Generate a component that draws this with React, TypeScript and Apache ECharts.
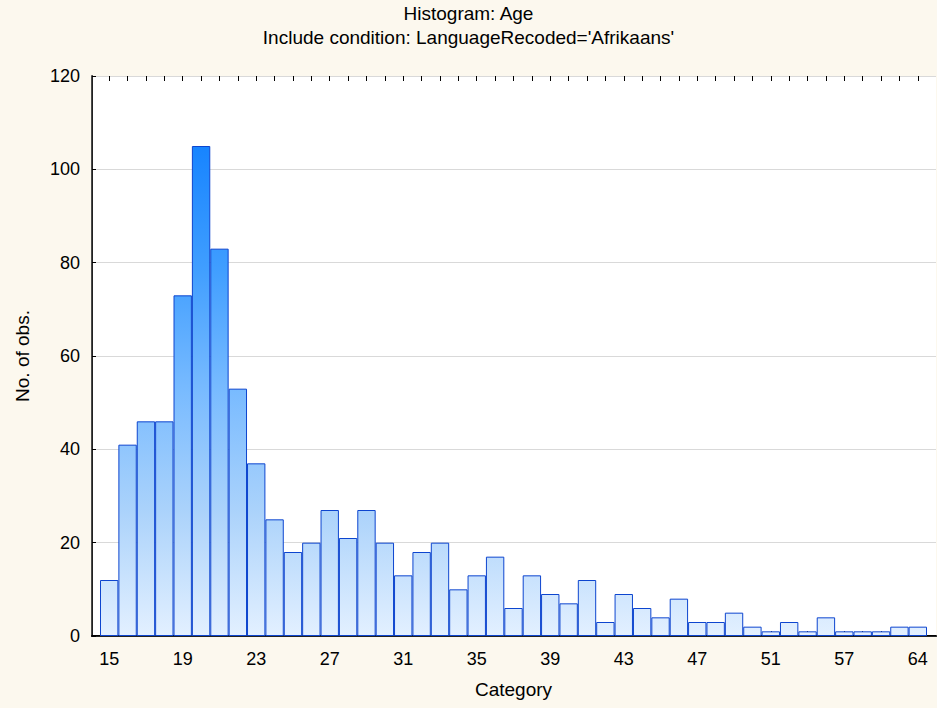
import React, { useEffect, useRef } from "react";
import * as echarts from "echarts";

const categories = [
  "15","16","17","18","19","20","21","22","23","24","25","26","27","28","29","30",
  "31","32","33","34","35","36","37","38","39","40","41","42","43","44","45","46",
  "47","48","49","50","51","52","53","55","57","58","60","62","64",
];
const counts = [
  12, 41, 46, 46, 73, 105, 83, 53, 37, 25, 18, 20, 27, 21, 27, 20,
  13, 18, 20, 10, 13, 17, 6, 13, 9, 7, 12, 3, 9, 6, 4, 8,
  3, 3, 5, 2, 1, 3, 1, 4, 1, 1, 1, 2, 2,
];
const yTicks = [0, 20, 40, 60, 80, 100, 120];

const FONT = "Liberation Sans, Arial, sans-serif";

export default function App() {
  const ref = useRef<HTMLDivElement>(null);
  useEffect(() => {
    if (!ref.current) return;
    const chart = echarts.init(ref.current, undefined, { renderer: "svg" });
    const top = 76;
    const bottom = 72;
    const plotH = 708 - top - bottom;
    const yMax = yTicks[yTicks.length - 1];
    const yOf = (v: number) => top + plotH * (1 - v / yMax);
    const gradient = {
      type: "linear",
      x: 0,
      y: yOf(105),
      x2: 0,
      y2: yOf(0),
      global: true,
      colorStops: [
        { offset: 0, color: "#1784ff" },
        { offset: 0.25, color: "#409eff" },
        { offset: 0.5, color: "#79bbff" },
        { offset: 0.75, color: "#acd3fb" },
        { offset: 1, color: "#e3f0ff" },
      ],
    };
    chart.setOption({
      animation: false,
      backgroundColor: "#fcf8ee",
      textStyle: { fontFamily: FONT },
      title: {
        text: "Histogram: Age",
        subtext: "Include condition: LanguageRecoded='Afrikaans'",
        left: "center",
        top: -1,
        itemGap: 5,
        textStyle: { fontFamily: FONT, fontSize: 19, fontWeight: "normal", color: "#000" },
        subtextStyle: { fontFamily: FONT, fontSize: 19, color: "#000" },
      },
      grid: [
        { left: 100, right: 10, top, bottom },
        { left: 92, right: 1, top, bottom, backgroundColor: "#fff", show: true, borderWidth: 0 },
      ],
      xAxis: [
        {
          type: "category",
          gridIndex: 0,
          data: categories,
          position: "bottom",
          name: "Category",
          nameLocation: "middle",
          nameGap: 44,
          nameTextStyle: { fontFamily: FONT, fontSize: 19, color: "#000" },
          axisLine: { show: false },
          axisTick: { show: true, inside: true, alignWithLabel: true, interval: 0, length: 5, lineStyle: { color: "#000" } },
          axisLabel: { interval: 3, margin: 14, fontFamily: FONT, fontSize: 18, color: "#000" },
          splitLine: { show: false },
        },
        {
          type: "category",
          gridIndex: 0,
          data: categories,
          position: "top",
          axisLine: { show: false },
          axisTick: { show: true, inside: true, alignWithLabel: true, interval: 0, length: 5, lineStyle: { color: "#000" } },
          axisLabel: { show: false },
          splitLine: { show: false },
        },
        {
          type: "value",
          gridIndex: 1,
          min: 0,
          max: 1,
          position: "bottom",
          axisLine: { show: true, lineStyle: { color: "#000", width: 2 } },
          axisTick: { show: false },
          axisLabel: { show: false },
          splitLine: { show: false },
        },
        {
          type: "value",
          gridIndex: 1,
          min: 0,
          max: 1,
          position: "top",
          axisLine: { show: true, lineStyle: { color: "#222", width: 1 } },
          axisTick: { show: false },
          axisLabel: { show: false },
          splitLine: { show: false },
        },
      ],
      yAxis: [
        {
          type: "value",
          gridIndex: 0,
          min: 0,
          max: yMax,
          show: false,
        },
        {
          type: "value",
          gridIndex: 1,
          min: 0,
          max: yMax,
          interval: 20,
          position: "left",
          name: "No. of obs.",
          nameLocation: "middle",
          nameGap: 60,
          nameTextStyle: { fontFamily: FONT, fontSize: 19, color: "#000" },
          axisLine: { show: true, lineStyle: { color: "#4a4a4a", width: 2 } },
          axisTick: { show: true, inside: true, length: 4, lineStyle: { color: "#000" } },
          axisLabel: { margin: 12, fontFamily: FONT, fontSize: 18, color: "#000" },
          splitLine: { show: true, lineStyle: { color: "#d9d9d9", width: 1 } },
        },
        {
          type: "value",
          gridIndex: 1,
          min: 0,
          max: yMax,
          position: "right",
          axisLine: { show: true, lineStyle: { color: "#222", width: 1 } },
          axisTick: { show: false },
          axisLabel: { show: false },
          splitLine: { show: false },
        },
      ],
      series: [
        {
          type: "bar",
          xAxisIndex: 0,
          yAxisIndex: 0,
          data: counts,
          barCategoryGap: 0,
          z: 5,
          itemStyle: { color: gradient, borderColor: "#0d45cf", borderWidth: 1 },
        },
      ],
    });
    return () => chart.dispose();
  }, []);
  return (
    <div
      ref={ref}
      style={{ position: "fixed", left: 0, top: 0, width: 937, height: 708 }}
    />
  );
}
